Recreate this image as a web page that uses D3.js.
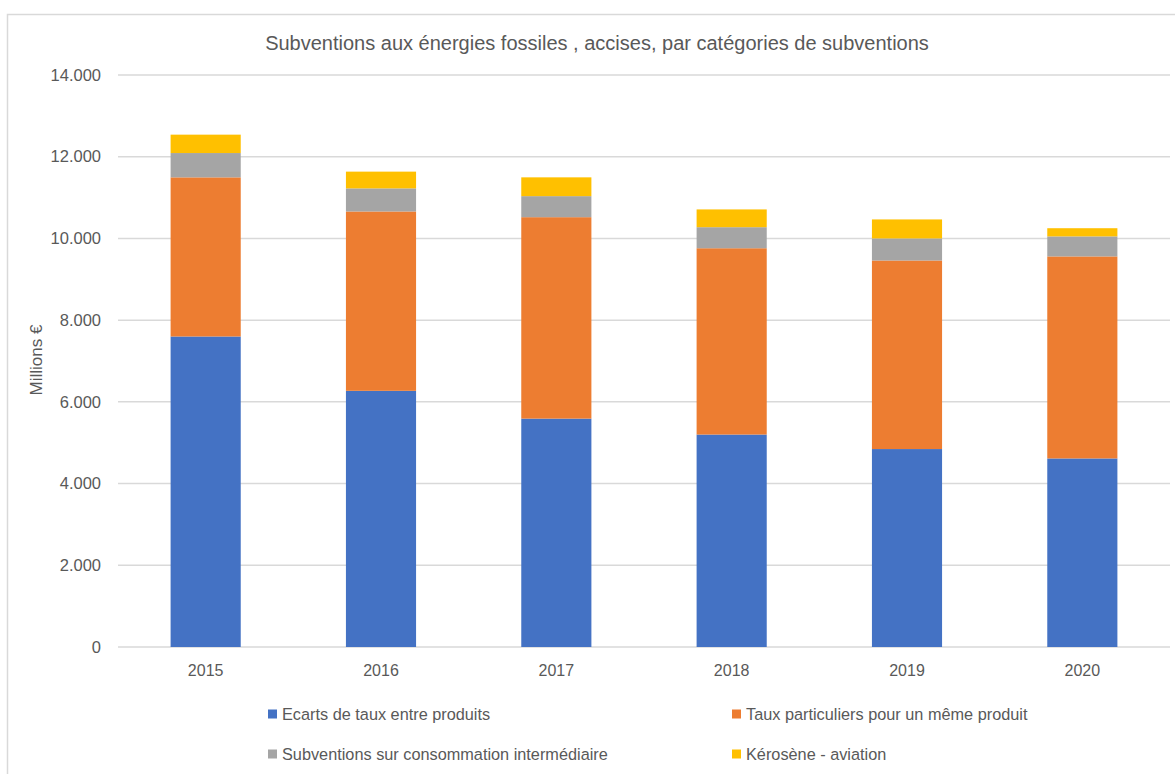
<!DOCTYPE html>
<html>
<head>
<meta charset="utf-8">
<script src="https://cdn.jsdelivr.net/npm/d3@7"></script>
<style>
  body { margin: 0; background: #fff; }
  text { font-family: "Liberation Sans", Arial, sans-serif; fill: #595959; }
</style>
</head>
<body>
<svg id="chart" width="1175" height="774"></svg>
<script>
// data
const years = ["2015", "2016", "2017", "2018", "2019", "2020"];
const seriesNames = [
  "Ecarts de taux entre produits",
  "Taux particuliers pour un même produit",
  "Subventions sur consommation intermédiaire",
  "Kérosène - aviation",
];
const ecarts = [7600, 6270, 5590, 5200, 4845, 4615];
const tauxParticuliers = [3895, 4390, 4930, 4560, 4615, 4945];
const consoInter = [595, 565, 515, 515, 540, 490];
const kerosene = [450, 410, 460, 435, 465, 200];
const yTicks = [0, 2000, 4000, 6000, 8000, 10000, 12000, 14000];
const colors = ["#4472C4", "#ED7D31", "#A5A5A5", "#FFC000"];

const svg = d3.select("#chart");
const margin = { left: 118, right: 5, top: 75, bottom: 127 };
const W = 1175, H = 774;

// chart border (light grey frame)
svg.append("rect")
  .attr("x", 7.5).attr("y", 14.5)
  .attr("width", 1200).attr("height", 800)
  .attr("fill", "none").attr("stroke", "#d9d9d9").attr("stroke-width", 1.5);

const table = years.map((y, i) => ({
  year: y, s0: ecarts[i], s1: tauxParticuliers[i], s2: consoInter[i], s3: kerosene[i],
}));
const keys = ["s0", "s1", "s2", "s3"];
const stacked = d3.stack().keys(keys)(table);

const x = d3.scaleBand()
  .domain(years)
  .range([margin.left, W - margin.right])
  .paddingInner(0.6)
  .paddingOuter(0.3);

const y = d3.scaleLinear()
  .domain([0, 14000])
  .range([H - margin.bottom, margin.top]);

// gridlines
svg.append("g")
  .selectAll("line")
  .data(yTicks)
  .enter()
  .append("line")
  .attr("x1", margin.left).attr("x2", W - margin.right)
  .attr("y1", d => y(d)).attr("y2", d => y(d))
  .attr("stroke", "#d9d9d9").attr("stroke-width", 1.5);

// y tick labels
const fmt = d => d === 0 ? "0" : d3.format(",")(d).replace(/,/g, ".");
svg.append("g")
  .selectAll("text")
  .data(yTicks)
  .enter()
  .append("text")
  .attr("x", 101)
  .attr("y", d => y(d))
  .attr("dy", "0.35em")
  .attr("text-anchor", "end")
  .style("font-size", "16.5px")
  .text(fmt);

// bars
svg.append("g")
  .selectAll("g")
  .data(stacked)
  .enter()
  .append("g")
  .attr("fill", (d, i) => colors[i])
  .selectAll("rect")
  .data(d => d)
  .enter()
  .append("rect")
  .attr("x", d => x(d.data.year))
  .attr("width", x.bandwidth())
  .attr("y", d => y(d[1]))
  .attr("height", d => y(d[0]) - y(d[1]));

// x labels
svg.append("g")
  .selectAll("text")
  .data(years)
  .enter()
  .append("text")
  .attr("x", d => x(d) + x.bandwidth() / 2)
  .attr("y", 676)
  .attr("text-anchor", "middle")
  .style("font-size", "16px")
  .text(d => d);

// axis title
svg.append("text")
  .attr("transform", "translate(42,360) rotate(-90)")
  .attr("text-anchor", "middle")
  .style("font-size", "17px")
  .text("Millions €");

// chart title
svg.append("text")
  .attr("x", 597).attr("y", 50)
  .attr("text-anchor", "middle")
  .style("font-size", "20px")
  .text("Subventions aux énergies fossiles , accises, par catégories de subventions");

// legend (2 columns, 2 rows)
const legendPos = [[268, 714], [732, 714], [268, 754], [732, 754]];
const legend = svg.append("g")
  .selectAll("g")
  .data(seriesNames)
  .enter()
  .append("g")
  .attr("transform", (d, i) => `translate(${legendPos[i][0]},${legendPos[i][1]})`);
legend.append("rect")
  .attr("x", 0).attr("y", -4.5)
  .attr("width", 9).attr("height", 9)
  .attr("fill", (d, i) => colors[i]);
legend.append("text")
  .attr("x", 14).attr("y", 0)
  .attr("dy", "0.35em")
  .style("font-size", "16.3px")
  .text(d => d);
</script>
</body>
</html>
